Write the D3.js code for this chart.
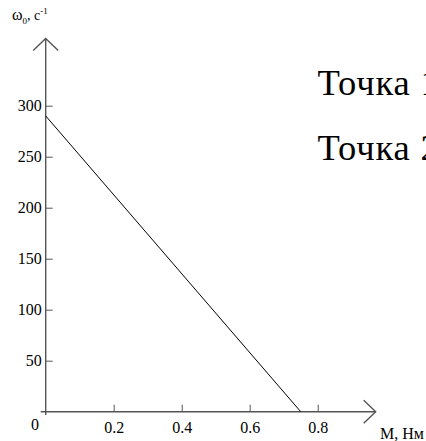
<!DOCTYPE html>
<html>
<head>
    <meta charset="UTF-8" />
    <script src="https://cdn.jsdelivr.net/npm/d3@7/dist/d3.min.js"></script>
    <style>
        body { margin: 0; background: #fff; }
        svg text { font-family: "Liberation Serif", "Times New Roman", serif; fill: #000; }
    </style>
</head>
<body>
    <div id="chart"></div>
    <script>
        // data
        const torque = [0, 0.75];
        const omega = [290, 0];
        const xTicks = [0.2, 0.4, 0.6, 0.8];
        const yTicks = [50, 100, 150, 200, 250, 300];
        const notes = ["Точка 1", "Точка 2"];

        const width = 426, height = 441;
        const x = d3.scaleLinear().domain([0, 0.8]).range([45.7, 317.7]);
        const y = d3.scaleLinear().domain([0, 300]).range([411.7, 105.7]);
        const axisColor = "#555";

        const svg = d3.select("#chart").append("svg")
            .attr("width", width)
            .attr("height", height);

        // y axis
        const gy = svg.append("g")
            .attr("transform", `translate(${x(0)},0)`)
            .call(d3.axisLeft(y).tickValues(yTicks).tickSize(-7).tickPadding(4).tickFormat(d3.format("d")));
        gy.select(".domain").remove();
        gy.selectAll(".tick line").attr("stroke", axisColor);
        gy.selectAll(".tick text").attr("font-size", 16).attr("font-family", "Liberation Serif");

        // x axis
        const gx = svg.append("g")
            .attr("transform", `translate(0,${y(0)})`)
            .call(d3.axisBottom(x).tickValues(xTicks).tickSize(-7).tickPadding(10.2).tickFormat(d3.format(".1f")));
        gx.select(".domain").remove();
        gx.selectAll(".tick line").attr("stroke", axisColor);
        gx.selectAll(".tick text").attr("font-size", 16).attr("font-family", "Liberation Serif");

        // axis lines with open arrows
        const x0 = x(0), y0 = y(0);
        const axes = svg.append("g")
            .attr("fill", "none")
            .attr("stroke", axisColor)
            .attr("stroke-width", 1.4);
        axes.append("line").attr("x1", x0).attr("x2", x0).attr("y1", 415).attr("y2", 38.5);
        axes.append("polyline").attr("points", `${x0 - 12.5},50.5 ${x0},38.5 ${x0 + 12.5},50.5`);
        axes.append("line").attr("x1", 40.7).attr("x2", 375.7).attr("y1", y0).attr("y2", y0);
        axes.append("polyline").attr("points", `363.7,${y0 - 11.5} 375.7,${y0} 363.7,${y0 + 11.5}`);

        // origin label
        svg.append("text")
            .attr("x", 31).attr("y", 430)
            .attr("font-size", 16)
            .text("0");

        // axis titles
        const yt = svg.append("text").attr("x", 12).attr("y", 20).attr("font-size", 16);
        yt.append("tspan").text("ω");
        yt.append("tspan").attr("font-size", 9).attr("dy", 4).text("0");
        yt.append("tspan").attr("font-size", 14).attr("dy", -4).text(", c");
        yt.append("tspan").attr("font-size", 9).attr("dy", -6).text("-1");

        svg.append("text")
            .attr("x", 380).attr("y", 438.5)
            .attr("font-size", 16)
            .text("M, Нм");

        // characteristic line
        const line = d3.line().x((d, i) => x(torque[i])).y(d => y(d));
        svg.append("path")
            .datum(omega)
            .attr("fill", "none")
            .attr("stroke", "#000")
            .attr("stroke-width", 1)
            .attr("d", line);

        // point notes (cut off at right edge as in the original)
        svg.selectAll(".note")
            .data(notes)
            .join("text")
            .attr("class", "note")
            .attr("x", 317.5)
            .attr("y", (d, i) => 95 + i * 65)
            .attr("font-size", 36.5)
            .attr("letter-spacing", 0.9)
            .text(d => d);
    </script>
</body>
</html>
